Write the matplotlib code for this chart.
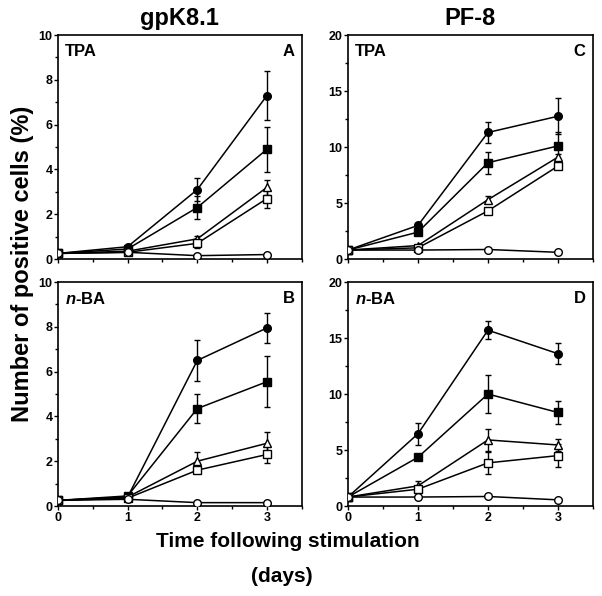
import matplotlib.pyplot as plt
from matplotlib.ticker import MultipleLocator

plt.rcParams['font.family'] = ['Liberation Sans', 'DejaVu Sans']
plt.rcParams['font.weight'] = 'bold'

days = [0, 1, 2, 3]

# ---------- panel A: gpK8.1, TPA ----------
a_fcirc = [0.25, 0.55, 3.1, 7.3]
a_fcirc_err = [0, 0, 0.5, 1.1]
a_fsq = [0.25, 0.45, 2.3, 4.9]
a_fsq_err = [0, 0, 0.5, 1.0]
a_otri = [0.25, 0.35, 0.9, 3.2]
a_otri_err = [0, 0, 0.15, 0.35]
a_osq = [0.25, 0.3, 0.7, 2.7]
a_osq_err = [0, 0, 0.2, 0.4]
a_ocirc = [0.25, 0.3, 0.15, 0.2]
a_ocirc_err = [0, 0, 0, 0]

# ---------- panel B: gpK8.1, n-BA ----------
b_fcirc = [0.25, 0.4, 6.5, 7.95]
b_fcirc_err = [0, 0, 0.9, 0.65]
b_fsq = [0.25, 0.45, 4.35, 5.55]
b_fsq_err = [0, 0, 0.65, 1.15]
b_otri = [0.25, 0.4, 2.0, 2.8]
b_otri_err = [0, 0, 0.4, 0.5]
b_osq = [0.25, 0.35, 1.6, 2.3]
b_osq_err = [0, 0, 0, 0.4]
b_ocirc = [0.25, 0.3, 0.15, 0.15]
b_ocirc_err = [0, 0, 0, 0]

# ---------- panel C: PF-8, TPA ----------
c_fcirc = [0.8, 3.0, 11.3, 12.75]
c_fcirc_err = [0, 0, 0.9, 1.6]
c_fsq = [0.8, 2.4, 8.6, 10.1]
c_fsq_err = [0, 0, 1.0, 1.2]
c_otri = [0.8, 1.2, 5.3, 9.1]
c_otri_err = [0, 0, 0.3, 0.3]
c_osq = [0.8, 1.0, 4.3, 8.3]
c_osq_err = [0, 0, 0, 0]
c_ocirc = [0.8, 0.8, 0.85, 0.6]
c_ocirc_err = [0, 0, 0, 0]

# ---------- panel D: PF-8, n-BA ----------
d_fcirc = [0.8, 6.45, 15.7, 13.6]
d_fcirc_err = [0, 1.0, 0.8, 0.95]
d_fsq = [0.8, 4.35, 10.0, 8.35]
d_fsq_err = [0, 0, 1.7, 1.0]
d_otri = [0.8, 1.8, 5.9, 5.45]
d_otri_err = [0, 0.4, 1.0, 0.5]
d_osq = [0.8, 1.5, 3.85, 4.5]
d_osq_err = [0, 0, 1.0, 1.0]
d_ocirc = [0.8, 0.8, 0.85, 0.55]
d_ocirc_err = [0, 0, 0, 0]

series_styles = [
    ("o", "black"),
    ("s", "black"),
    ("^", "white"),
    ("s", "white"),
    ("o", "white"),
]

panels = [
    # (rect, ymax, treatment, letter, data)
    ([0.0963, 0.5654, 0.405, 0.3758], 10, "TPA", "A",
     [(a_fcirc, a_fcirc_err), (a_fsq, a_fsq_err), (a_otri, a_otri_err),
      (a_osq, a_osq_err), (a_ocirc, a_ocirc_err)]),
    ([0.0963, 0.151, 0.405, 0.3758], 10, r"$\mathbfit{n}$-BA", "B",
     [(b_fcirc, b_fcirc_err), (b_fsq, b_fsq_err), (b_otri, b_otri_err),
      (b_osq, b_osq_err), (b_ocirc, b_ocirc_err)]),
    ([0.578, 0.5654, 0.407, 0.3758], 20, "TPA", "C",
     [(c_fcirc, c_fcirc_err), (c_fsq, c_fsq_err), (c_otri, c_otri_err),
      (c_osq, c_osq_err), (c_ocirc, c_ocirc_err)]),
    ([0.578, 0.151, 0.407, 0.3758], 20, r"$\mathbfit{n}$-BA", "D",
     [(d_fcirc, d_fcirc_err), (d_fsq, d_fsq_err), (d_otri, d_otri_err),
      (d_osq, d_osq_err), (d_ocirc, d_ocirc_err)]),
]

plt.rcParams['mathtext.fontset'] = 'custom'
plt.rcParams['mathtext.bfit'] = 'Liberation Sans:bold:italic'

fig = plt.figure(figsize=(6.02, 5.96), dpi=100)

for rect, ymax, treat, letter, data in panels:
    ax = fig.add_axes(rect)
    for (vals, errs), (mk, fc) in zip(data, series_styles):
        ax.errorbar(days, vals, yerr=errs, marker=mk, color="black",
                    mfc=fc, mec="black", ms=5.5 if mk != "^" else 6,
                    lw=1.1, elinewidth=1.0, capsize=2, capthick=1.0,
                    mew=1.0, zorder=3)
    ax.set_xlim(0, 3.5)
    ax.set_ylim(0, ymax)
    ax.xaxis.set_major_locator(MultipleLocator(1))
    ax.xaxis.set_minor_locator(MultipleLocator(0.5))
    ax.yaxis.set_major_locator(MultipleLocator(2 if ymax == 10 else 5))
    ax.yaxis.set_minor_locator(MultipleLocator(1 if ymax == 10 else 2.5))
    ax.tick_params(which="major", length=3, width=1, labelsize=9, pad=1)
    ax.tick_params(which="minor", length=2, width=1)
    for lbl in ax.get_xticklabels() + ax.get_yticklabels():
        lbl.set_fontweight("bold")
    for sp in ax.spines.values():
        sp.set_linewidth(1.2)
    ax.text(0.03, 0.96, treat, transform=ax.transAxes, ha="left", va="top",
            fontsize=12, fontweight="bold")
    ax.text(0.97, 0.96, letter, transform=ax.transAxes, ha="right", va="top",
            fontsize=12, fontweight="bold")
    if letter in ("A", "C"):
        ax.set_xticklabels([])
        ax.set_title("gpK8.1" if letter == "A" else "PF-8", fontsize=17,
                     fontweight="bold", pad=7)

fig.text(0.038, 0.557, "Number of positive cells (%)", rotation=90,
         ha="center", va="center", fontsize=17, fontweight="bold")
fig.text(0.478, 0.091, "Time following stimulation", ha="center",
         va="center", fontsize=15, fontweight="bold")
fig.text(0.468, 0.032, "(days)", ha="center", va="center", fontsize=15,
         fontweight="bold")

fig.savefig("out.png", dpi=100)
